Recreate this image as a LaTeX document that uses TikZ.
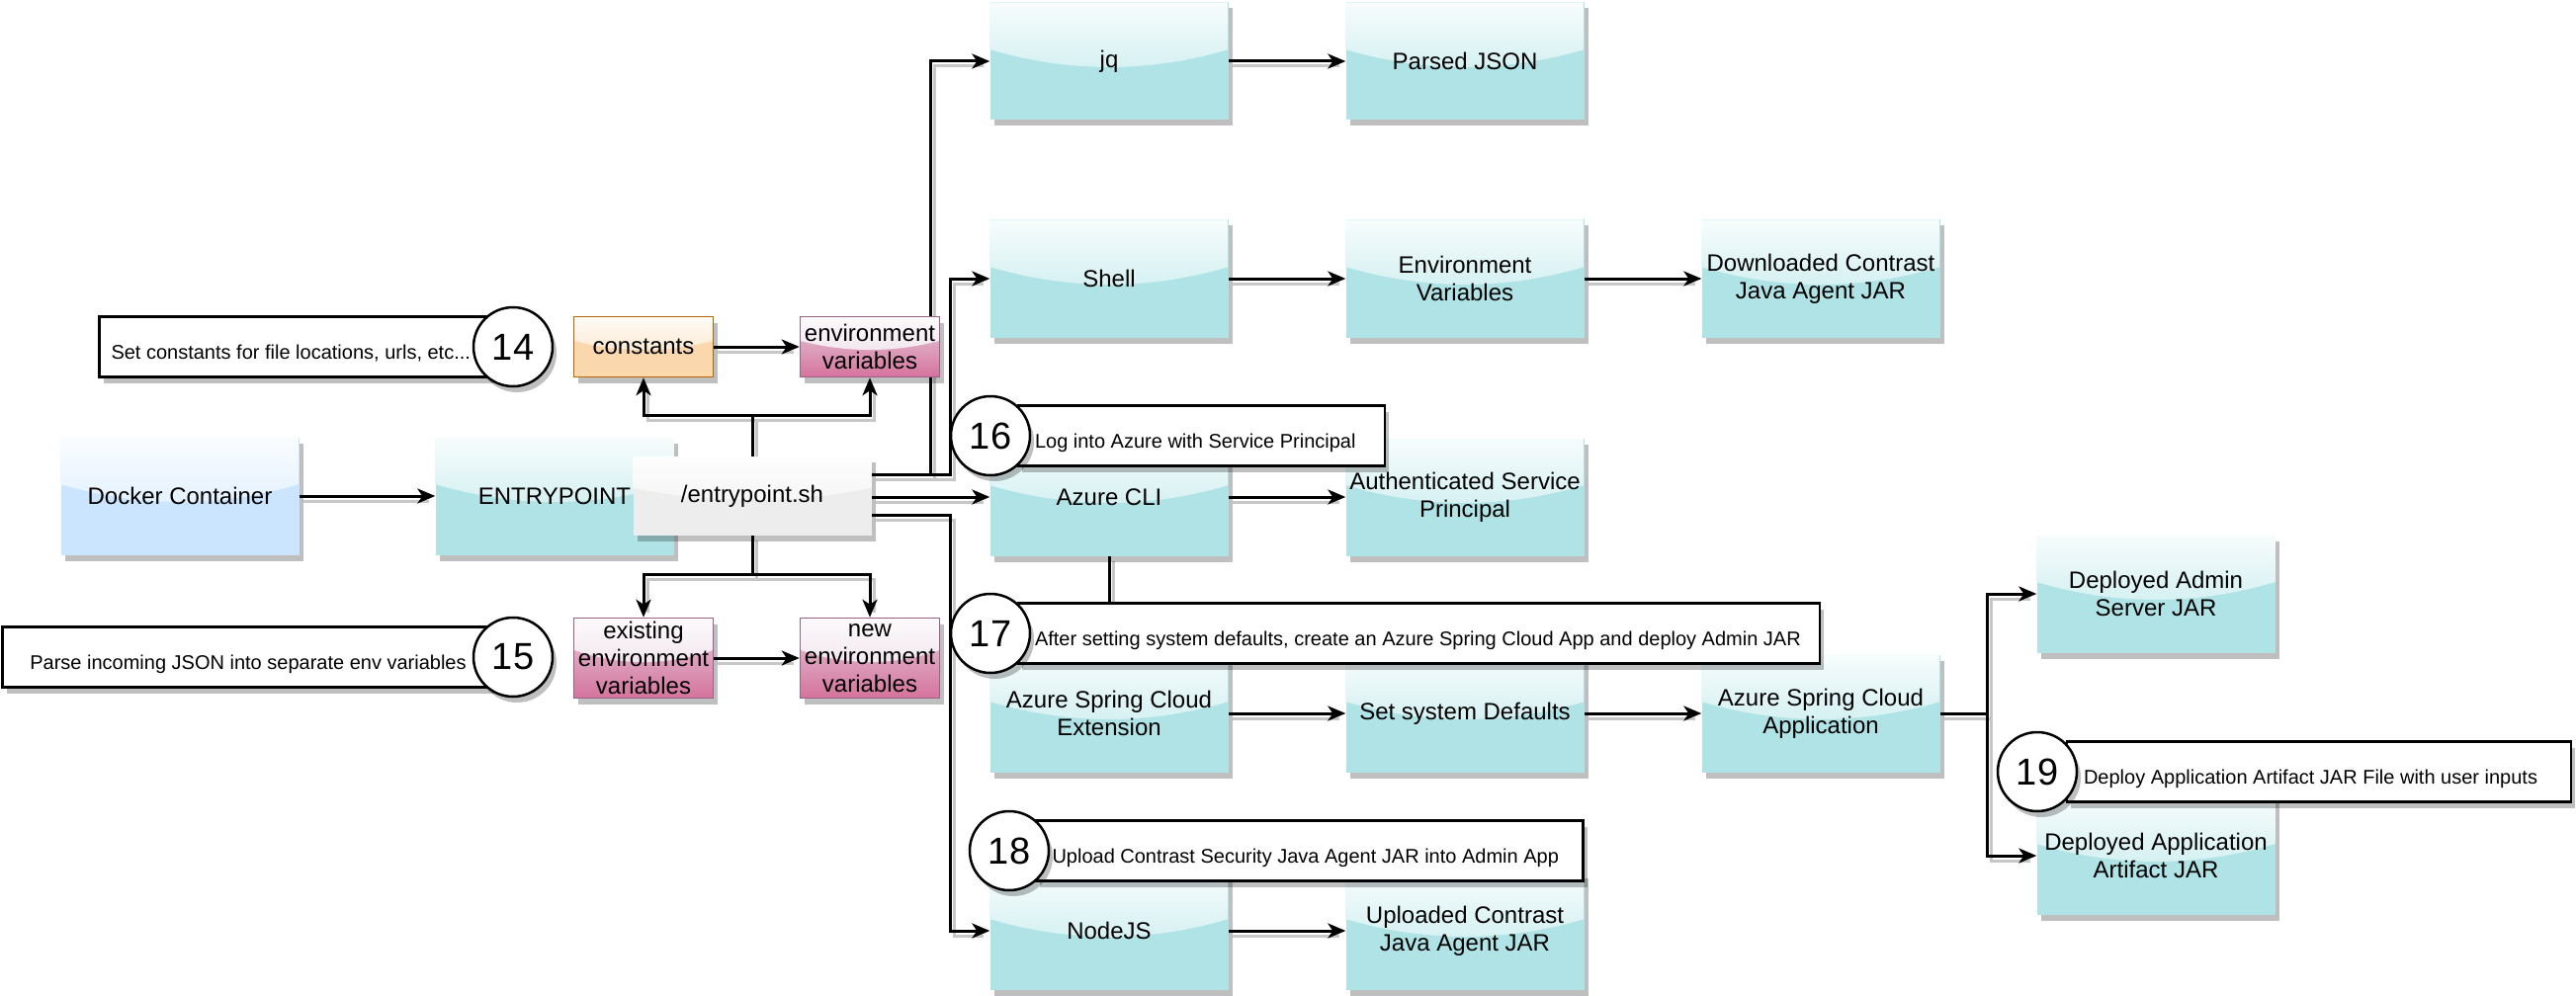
\documentclass[tikz,border=0pt]{standalone}
\usepackage{fontspec}
\setmainfont{Liberation Sans}
\usetikzlibrary{shadows,arrows.meta,calc}
\pgfdeclarelayer{bg}
\pgfsetlayers{bg,main}
\definecolor{tealF}{HTML}{B0E3E6}
\definecolor{blueF}{HTML}{CCE5FF}
\definecolor{grayF}{HTML}{EDEDED}
\definecolor{orangeF}{HTML}{FAD7AC}
\definecolor{orangeS}{HTML}{B46504}
\definecolor{pinkA}{HTML}{E6D0DE}
\definecolor{pinkB}{HTML}{D5739D}
\definecolor{pinkS}{HTML}{996185}
\tikzset{
  glass/.style={path picture={
    \shade[top color=white!90!#1, bottom color=white!15!#1]
      let \p1=(path picture bounding box.south west),
          \p2=(path picture bounding box.north east) in
      (\x1,\y2) -- (\x1,{\y2-0.4*(\y2-\y1)})
      .. controls ({\x1+(\x2-\x1)/3},{\y2-0.6*(\y2-\y1)})
             and ({\x1+2*(\x2-\x1)/3},{\y2-0.6*(\y2-\y1)})
      .. (\x2,{\y2-0.4*(\y2-\y1)}) -- (\x2,\y2) -- cycle;}},
  shad/.style={drop shadow={shadow xshift=4pt, shadow yshift=-6pt, fill=black, opacity=0.25}},
  box/.style={shad, rectangle, inner sep=0pt, align=center,
    font=\fontsize{24}{28}\selectfont},
  bigbox/.style={box, minimum width=241pt, minimum height=119pt},
  tealbox/.style={bigbox, fill=tealF, glass=tealF},
  bluebox/.style={bigbox, fill=blueF, glass=blueF},
  graybox/.style={box, minimum width=241pt, minimum height=80pt, fill=grayF, glass=grayF},
  orangebox/.style={box, minimum width=141pt, minimum height=61pt, fill=orangeF, draw=orangeS, line width=1.5pt, glass=orangeF},
  pinkbox/.style={box, minimum width=141pt, minimum height=#1, top color=pinkA, bottom color=pinkB, draw=pinkS, line width=1.5pt, glass=pinkA},
  flow/.style={line width=3pt, -{Stealth[length=18pt,width=15pt,inset=5pt]}},
  plainline/.style={line width=3pt},
  edgeshadow/.style={line width=3pt, draw=black!22, shorten >=10pt},
  note/.style={shad, draw=black, fill=white, line width=2.5pt, minimum height=61pt,
    inner ysep=0pt, inner xsep=17pt, font=\fontsize{20}{24}\selectfont},
  num/.style={shad, circle, draw=black, fill=white, line width=2.5pt, minimum size=80pt,
    inner sep=0pt, font=\fontsize{38}{40}\selectfont},
}
\newcommand\conn[2][flow]{%
  \begin{scope}[transform canvas={xshift=4pt,yshift=-5pt}]\draw[edgeshadow] #2;\end{scope}%
  \draw[#1] #2;}
\newcommand\ntxt[3][c]{\smash{\raisebox{-12pt}{\makebox[#2][#1]{#3}}}}
\begin{document}
\begin{tikzpicture}[x=1pt,y=-1pt]
\useasboundingbox (0,0) rectangle (2606,1008);
% main boxes
\node[bluebox] (docker) at (182,502) {Docker Container};
\node[tealbox] (entry) at (561,502) {ENTRYPOINT};
\node[graybox] (esh) at (761,502) {/entrypoint.sh};
\node[orangebox] (const) at (651,351) {constants};
\node[pinkbox=61pt] (envtop) at (880,351) {environment\\variables};
\node[pinkbox=81pt] (exist) at (651,666) {existing\\environment\\variables};
\node[pinkbox=81pt] (newenv) at (880,666) {new\\environment\\variables};
\node[tealbox] (jq) at (1122,62) {jq};
\node[tealbox] (parsed) at (1482,62) {Parsed JSON};
\node[tealbox] (shell) at (1122,282) {Shell};
\node[tealbox] (envvars) at (1482,282) {Environment\\Variables};
\node[tealbox] (downloaded) at (1842,282) {Downloaded Contrast\\Java Agent JAR};
\node[tealbox] (azcli) at (1122,503) {Azure CLI};
\node[tealbox] (auth) at (1482,503) {Authenticated Service\\Principal};
\node[tealbox] (ext) at (1122,722) {Azure Spring Cloud\\Extension};
\node[tealbox] (setdef) at (1482,722) {Set system Defaults};
\node[tealbox] (app) at (1842,722) {Azure Spring Cloud\\Application};
\node[tealbox] (admin) at (2181,601) {Deployed Admin\\Server JAR};
\node[tealbox] (artifact) at (2181,866) {Deployed Application\\Artifact JAR};
\node[tealbox] (nodejs) at (1122,942) {NodeJS};
\node[tealbox] (uploaded) at (1482,942) {Uploaded Contrast\\Java Agent JAR};
% connectors (behind the boxes)
\begin{pgfonlayer}{bg}
\conn{(docker.east) -- (entry.west)}
\conn{(esh.north) -- ++(0,-41) -| (const.south)}
\conn{(esh.north) -- ++(0,-41) -| (envtop.south)}
\conn{(esh.south) -- ++(0,39) -| (exist.north)}
\conn{(esh.south) -- ++(0,39) -| (newenv.north)}
\conn{(const.east) -- (envtop.west)}
\conn{(exist.east) -- (newenv.west)}
\conn{($(esh.east)+(0,-22)$) -| ($(jq.west)+(-60,0)$) -- (jq.west)}
\conn{($(esh.east)+(0,-22)$) -| ($(shell.west)+(-40,0)$) -- (shell.west)}
\conn{(esh.east |- azcli.west) -- (azcli.west)}
\conn{($(esh.east)+(0,19)$) -| ($(nodejs.west)+(-40,0)$) -- (nodejs.west)}
\conn{(jq.east) -- (parsed.west)}
\conn{(shell.east) -- (envvars.west)}
\conn{(envvars.east) -- (downloaded.west)}
\conn{(azcli.east) -- (auth.west)}
\conn[plainline]{(azcli.south) -- (ext.north)}
\conn{(ext.east) -- (setdef.west)}
\conn{(setdef.east) -- (app.west)}
\conn{(app.east) -| ($(admin.west)+(-50,0)$) -- (admin.west)}
\conn{(app.east) -| ($(artifact.west)+(-50,0)$) -- (artifact.west)}
\conn{(nodejs.east) -- (uploaded.west)}
\end{pgfonlayer}
% notes
\node[note, inner xsep=12pt] (n14) at (300,351) {\ntxt[l]{375pt}{Set constants for file locations, urls, etc...}};
\node[num] (c14) at (519,351) {14};
\node[note] (n15) at (251,665) {\ntxt{463pt}{Parse incoming JSON into separate env variables}};
\node[num] (c15) at (519,665) {15};
\node[note] (n16) at (1215.5,441) {\ntxt[l]{337pt}{Log into Azure with Service Principal}};
\node[num] (c16) at (1002,441) {16};
\node[note] (n17) at (1435.5,641) {\ntxt[l]{777pt}{After setting system defaults, create an Azure Spring Cloud App and deploy Admin JAR}};
\node[num] (c17) at (1002,641) {17};
\node[note] (n18) at (1324.5,861) {\ntxt[l]{520pt}{Upload Contrast Security Java Agent JAR into Admin App}};
\node[num] (c18) at (1021,861) {18};
\node[note] (n19) at (2346,781) {\ntxt[l]{476pt}{Deploy Application Artifact JAR File with user inputs}};
\node[num] (c19) at (2061,781) {19};
\end{tikzpicture}
\end{document}
